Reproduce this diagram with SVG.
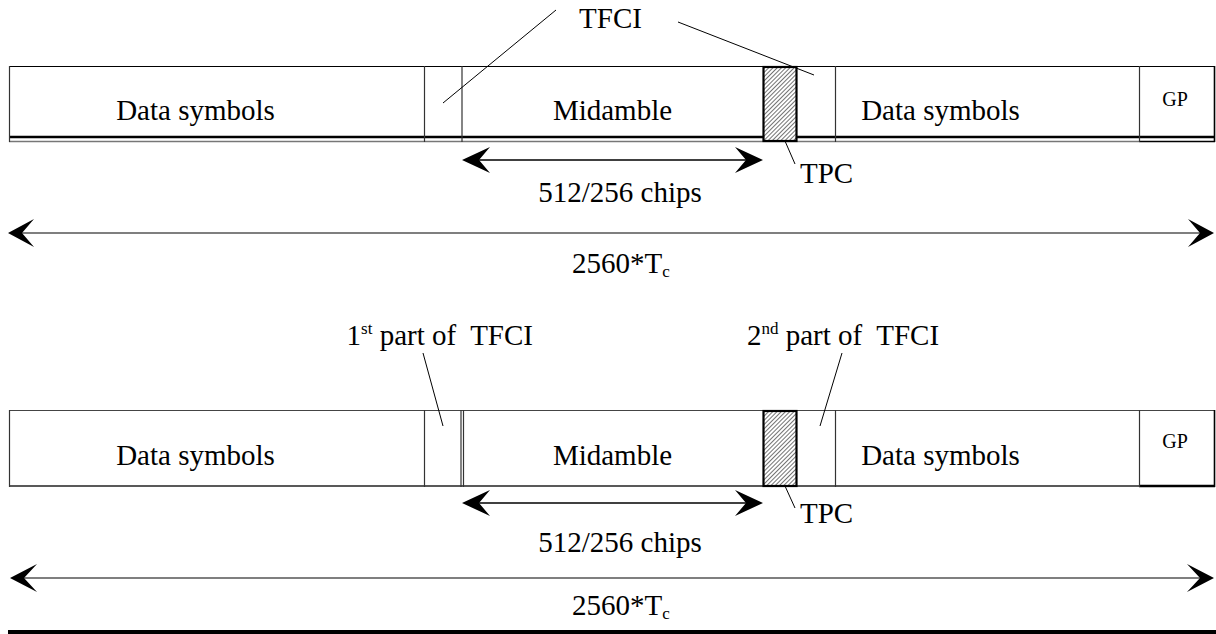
<svg xmlns="http://www.w3.org/2000/svg" width="1216" height="634" viewBox="0 0 1216 634">
<defs>
<style>
text{font-family:"Liberation Serif","Times New Roman",serif;fill:#000;white-space:pre}
.lbl{font-size:29px}
.gp{font-size:20px}
.sm{font-size:17px}
.frame{fill:none;stroke:#000;stroke-width:1.2}
.div{stroke:#333;stroke-width:1.2}
.lead{stroke:#000;stroke-width:1;fill:none}
.tpc{fill:url(#hatch);stroke:#000;stroke-width:2.2}
.dim{stroke:#000;stroke-width:1.6}
.dimg{stroke:#555;stroke-width:1.6}
.head{fill:#000}
</style>
<pattern id="hatch" patternUnits="userSpaceOnUse" width="3" height="3" patternTransform="rotate(45)">
<rect width="3" height="3" fill="#fff"/>
<line x1="0" y1="0" x2="0" y2="3" stroke="#444" stroke-width="1.5"/>
</pattern>
</defs>
<rect width="1216" height="634" fill="#fff"/>

<!-- Top frame -->
<g id="frame-top">
<line x1="9" y1="66.5" x2="1215" y2="66.5" class="frame"/>
<line x1="9" y1="137" x2="1215" y2="137" stroke="#000" stroke-width="2.4"/>
<line x1="9" y1="141.5" x2="1139" y2="141.5" stroke="#777" stroke-width="1.6"/>
<line x1="1139" y1="141.5" x2="1215" y2="141.5" stroke="#000" stroke-width="1.6"/>
<line x1="9.5" y1="66" x2="9.5" y2="142" class="div"/>
<line x1="1214.5" y1="66" x2="1214.5" y2="142" stroke="#000" stroke-width="1.6"/>
<line x1="424.5" y1="66" x2="424.5" y2="142" class="div"/>
<line x1="462" y1="66" x2="462" y2="142" class="div"/>
<line x1="835.5" y1="66" x2="835.5" y2="142" class="div"/>
<line x1="1139.5" y1="66" x2="1139.5" y2="142" class="div"/>
<rect x="763.5" y="67" width="33" height="74" class="tpc"/>
</g>
<g id="top-data1"><text class="lbl" x="195.5" y="120" text-anchor="middle">Data symbols</text></g>
<g id="top-midamble"><text class="lbl" x="612.5" y="120" text-anchor="middle">Midamble</text></g>
<g id="top-data2"><text class="lbl" x="940.5" y="120" text-anchor="middle">Data symbols</text></g>
<g id="top-gp"><text class="gp" x="1175" y="106" text-anchor="middle">GP</text></g>
<g id="top-tfci"><text class="lbl" x="610.5" y="28" text-anchor="middle">TFCI</text></g>
<g id="top-tpc"><text class="lbl" x="800" y="183">TPC</text></g>
<g id="top-chips"><text class="lbl" x="620" y="202" text-anchor="middle">512/256 chips</text></g>
<g id="top-tc"><text class="lbl" x="572" y="273">2560*T<tspan class="sm" dy="4">c</tspan></text></g>

<!-- Bottom frame -->
<g id="frame-bottom">
<line x1="9" y1="410.5" x2="1215" y2="410.5" stroke="#444" stroke-width="1.2"/>
<line x1="9" y1="486" x2="1139" y2="486" stroke="#222" stroke-width="1.6"/>
<line x1="1139" y1="486" x2="1215" y2="486" stroke="#000" stroke-width="2.4"/>
<line x1="9.5" y1="410" x2="9.5" y2="487" class="div"/>
<line x1="1214.5" y1="410" x2="1214.5" y2="487" stroke="#000" stroke-width="1.6"/>
<line x1="424.5" y1="410" x2="424.5" y2="487" class="div"/>
<line x1="461" y1="410" x2="461" y2="487" class="div"/>
<line x1="463.5" y1="410" x2="463.5" y2="487" class="div"/>
<line x1="835.5" y1="410" x2="835.5" y2="487" class="div"/>
<line x1="1139.5" y1="410" x2="1139.5" y2="487" class="div"/>
<rect x="763.5" y="411" width="33" height="75" class="tpc"/>
</g>
<g id="bot-data1"><text class="lbl" x="195.5" y="465" text-anchor="middle">Data symbols</text></g>
<g id="bot-midamble"><text class="lbl" x="612.5" y="465" text-anchor="middle">Midamble</text></g>
<g id="bot-data2"><text class="lbl" x="940.5" y="465" text-anchor="middle">Data symbols</text></g>
<g id="bot-gp"><text class="gp" x="1175" y="448" text-anchor="middle">GP</text></g>
<g id="bot-tfci1"><text class="lbl" x="533" y="345" text-anchor="end">1<tspan class="sm" dy="-11">st</tspan><tspan dy="11"> part of  TFCI</tspan></text></g>
<g id="bot-tfci2"><text class="lbl" x="747" y="345">2<tspan class="sm" dy="-11">nd</tspan><tspan dy="11"> part of  TFCI</tspan></text></g>
<g id="bot-tpc"><text class="lbl" x="800" y="523">TPC</text></g>
<g id="bot-chips"><text class="lbl" x="620" y="552" text-anchor="middle">512/256 chips</text></g>
<g id="bot-tc"><text class="lbl" x="572" y="615">2560*T<tspan class="sm" dy="4">c</tspan></text></g>

<!-- Connectors -->
<g id="connectors">
<line x1="556" y1="10" x2="443" y2="103" class="lead"/>
<line x1="678" y1="22" x2="814" y2="75" class="lead"/>
<line x1="785" y1="141" x2="795" y2="164" class="lead" stroke-width="1.4"/>
<line x1="423" y1="353" x2="443" y2="426" class="lead"/>
<line x1="842" y1="353" x2="820" y2="426" class="lead"/>
<line x1="785" y1="486" x2="795" y2="508" class="lead" stroke-width="1.4"/>

<line x1="475" y1="160" x2="750" y2="160" class="dim"/>
<path class="head" d="M462,160 L490,147 L479,160 L490,173 Z"/>
<path class="head" d="M763,160 L735,147 L746,160 L735,173 Z"/>
<line x1="20" y1="233" x2="1200" y2="233" class="dimg"/>
<path class="head" d="M8,233 L34,219 L22,233 L34,247 Z"/>
<path class="head" d="M1214,233 L1188,219 L1200,233 L1188,247 Z"/>

<line x1="475" y1="503" x2="750" y2="503" class="dim"/>
<path class="head" d="M462,503 L490,490 L479,503 L490,516 Z"/>
<path class="head" d="M763,503 L735,490 L746,503 L735,516 Z"/>
<line x1="20" y1="578" x2="1200" y2="578" class="dimg"/>
<path class="head" d="M10,578 L37,564 L24,578 L37,592 Z"/>
<path class="head" d="M1214,578 L1187,564 L1200,578 L1187,592 Z"/>
</g>
<rect x="8" y="630" width="1208" height="4" fill="#000"/>
</svg>
